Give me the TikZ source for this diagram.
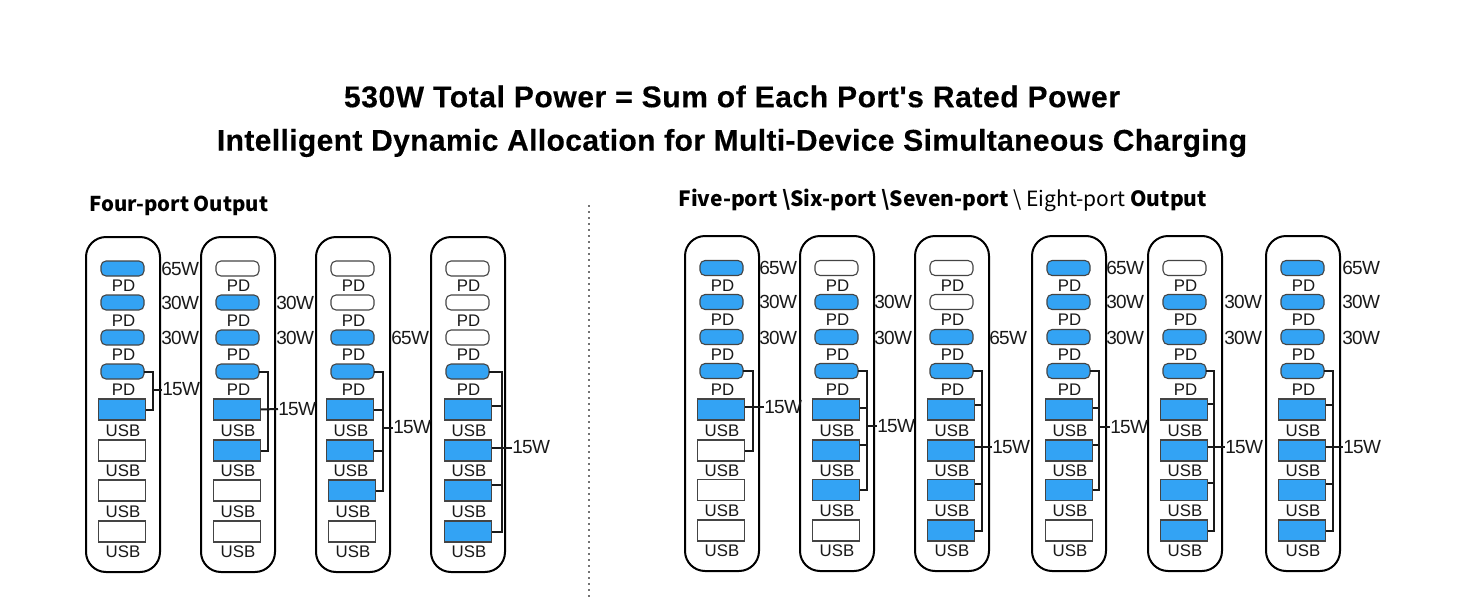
\documentclass[tikz,border=0pt]{standalone}
\usepackage{fontspec}
\setmainfont{Liberation Sans}
\newfontfamily\wattfont[LetterSpace=-4]{Liberation Sans}
\newfontfamily\titlefont[LetterSpace=2,BoldFeatures={FakeBold=0.35}]{Liberation Sans}
\newfontfamily\titlefontb[LetterSpace=1.25,BoldFeatures={FakeBold=0.35}]{Liberation Sans}
\newfontfamily\subfont{Noto Sans CJK SC}
\definecolor{portblue}{HTML}{33A3F4}
\definecolor{portedge}{HTML}{444444}
\tikzset{
  x=0.5pt,y=-0.5pt,
  casebox/.style={draw=black,line width=1pt,rounded corners=10pt,fill=white,minimum width=37pt,minimum height=167.5pt,inner sep=0pt,outer sep=0pt},
  pill/.style={draw=portedge,line width=.55pt,rounded corners=2.5pt,minimum width=21.5pt,minimum height=7.5pt,inner sep=0pt,outer sep=0pt},
  rectport/.style={draw=portedge,line width=.55pt,minimum width=23.75pt,minimum height=10.5pt,inner sep=0pt,outer sep=0pt},
  portlabel/.style={font=\fontsize{8.4}{8.4}\selectfont,inner sep=0pt,text=black!90},
  watt/.style={font=\wattfont\fontsize{9.5}{9.5}\selectfont,inner sep=0pt,anchor=west,text=black!90},
  wire/.style={draw=black!90,line width=1pt},
  titletext/.style={font=\titlefont\bfseries\fontsize{15}{15}\selectfont,inner sep=0pt},
  titletextb/.style={font=\titlefontb\bfseries\fontsize{15}{15}\selectfont,inner sep=0pt},
  subtext/.style={font=\subfont\bfseries\fontsize{10.2}{10.2}\selectfont,inner sep=0pt,anchor=west},
  subtextb/.style={font=\subfont\bfseries\fontsize{10.5}{10.5}\selectfont,inner sep=0pt,anchor=west},
}
% #1 id, #2 case left, #3 case top, #4 pill x, #5 list rectx/y/labely/fill for USB rows, #6 pill fills
\newcommand{\portcol}[6]{
  \node[casebox] (case#1) at (#2+37,#3+167.5) {};
  \foreach \yy/\ly/\ff [count=\i] in {#6}{
    \node[pill,fill=\ff] (c#1p\i) at (#4+21.5,\yy) {};
    \node[portlabel] (c#1pl\i) at (#4+22.5,\ly) {PD};
  }
  \foreach \xx/\yy/\ly/\ff [count=\i] in {#5}{
    \node[rectport,fill=\ff] (c#1u\i) at (\xx+24,\yy) {};
    \node[portlabel] (c#1ul\i) at (\xx+25,\ly) {USB};
  }
}
\begin{document}
\begin{tikzpicture}
\useasboundingbox (0,0) rectangle (1464,600);
\fill[white] (0,0) rectangle (1464,600);
\node[titletext] (t1) at (732,96.5) {530W Total Power = Sum of Each Port's Rated Power};
\node[titletextb] (t2) at (732,143) {Intelligent Dynamic Allocation for Multi-Device Simultaneous Charging};
\node[subtext] (s1) at (89,206) {Four-port Output};
\node[subtextb] (s2) at (678,200) {Five-port \textbackslash Six-port \textbackslash Seven-port {\mdseries\textbackslash\ Eight-port} Output};
\draw[dotted,line width=1pt,draw=black!55] (589,205) -- (589,600);
\def\B{portblue}\def\W{white}
\portcol{1}{86}{237}{101}{98/409.5/431/\B,98/450.5/471/\W,98/490.5/512/\W,98/531.5/552/\W}{268.5/286/\B,302.5/321/\B,337.5/355/\B,371.5/390/\B}
\portcol{2}{201}{237}{216}{213/409.5/431/\B,213/450.5/471/\B,213/490.5/512/\W,213/531.5/552/\W}{268.5/286/\W,302.5/321/\B,337.5/355/\B,371.5/390/\B}
\portcol{3}{316}{237}{331}{326/409.5/431/\B,326/450.5/471/\B,328/490.5/512/\B,328/531.5/552/\W}{268.5/286/\W,302.5/321/\W,337.5/355/\B,371.5/390/\B}
\portcol{4}{431}{237}{446}{444/409.5/431/\B,444/450.5/471/\B,444/490.5/512/\B,444/531.5/552/\B}{268.5/286/\W,302.5/321/\W,337.5/355/\W,371.5/390/\B}
\portcol{5}{685}{236}{700}{697/409.5/431/\B,697/450.5/471/\W,697/490/511/\W,697/530.5/551/\W}{268/286/\B,302/320/\B,337/355/\B,371/390/\B}
\portcol{6}{800}{236}{815}{812/409.5/431/\B,812/450.5/471/\B,812/490/511/\B,812/530.5/551/\W}{268/286/\W,302/320/\B,337/355/\B,371/390/\B}
\portcol{7}{915}{236}{930}{927/409.5/431/\B,927/450.5/471/\B,927/490/511/\B,927/530.5/551/\B}{268/286/\W,302/320/\W,337/355/\B,371/390/\B}
\portcol{8}{1032}{236}{1047}{1045/409.5/431/\B,1045/450.5/471/\B,1045/490/511/\B,1045/530.5/551/\W}{268/286/\B,302/320/\B,337/355/\B,371/390/\B}
\portcol{9}{1148}{236}{1163}{1160/409.5/431/\B,1160/450.5/471/\B,1160/490/511/\B,1160/530.5/551/\B}{268/286/\W,302/320/\B,337/355/\B,371/390/\B}
\portcol{10}{1266}{236}{1281}{1278/409.5/431/\B,1278/450.5/471/\B,1278/490/511/\B,1278/530.5/551/\B}{268/286/\B,302/320/\B,337/355/\B,371/390/\B}
\foreach \nm/\xx/\yy/\tx in {a/161/269/65W,b/161/303/30W,c/161/338/30W,d/276/303/30W,e/276/338/30W,f/391/338/65W,
  g/759/268/65W,h/759/302/30W,i/759/338/30W,j/874/302/30W,k/874/338/30W,l/989/338/65W,
  m/1106/268/65W,n/1106/302/30W,o/1106/338/30W,p/1224/302/30W,q/1224/338/30W,r/1342/268/65W,s/1342/302/30W,t/1342/338/30W}
  \node[watt] (w\nm) at (\xx,\yy) {\tx};
\node[watt] (f1) at (162,389.5) {15W};
\coordinate (j1) at (153,389.5);
\draw[wire] (c1p4.east) -| (j1) |- (c1u1.east);
\draw[wire] (j1) -- (f1.west);
\node[watt] (f2) at (278,409) {15W};
\coordinate (j2) at (268,409);
\draw[wire] (c2p4.east) -| (j2) |- (c2u2.east);
\draw[wire] (c2u1.east) -- (f2.west);
\node[watt] (f3) at (393,427.5) {15W};
\coordinate (j3) at (383,427.5);
\draw[wire] (c3p4.east) -| (j3) |- (c3u3.east);
\draw[wire] (c3u1.east) -- (j3 |- c3u1.east);
\draw[wire] (c3u2.east) -- (j3 |- c3u2.east);
\draw[wire] (j3) -- (f3.west);
\node[watt] (f4) at (512,447.5) {15W};
\coordinate (j4) at (501.5,447.5);
\draw[wire] (c4p4.east) -| (j4) |- (c4u4.east);
\draw[wire] (c4u1.east |- 0,406) -- (j4 |- 0,406);
\draw[wire] (c4u2.east |- f4) -- (f4.west);
\draw[wire] (c4u3.east |- 0,485) -- (j4 |- 0,485);
\node[watt] (f5) at (764,407) {15W};
\coordinate (j5) at (752.5,407);
\draw[wire] (c5p4.east) -| (j5) |- (c5u2.east);
\draw[wire] (c5u1.east |- f5) -- (f5.west);
\node[watt] (f6) at (877,426) {15W};
\coordinate (j6) at (866.5,426);
\draw[wire] (c6p4.east) -| (j6) |- (c6u3.east);
\draw[wire] (c6u1.east |- 0,408) -- (j6 |- 0,408);
\draw[wire] (c6u2.east |- 0,445) -- (j6 |- 0,445);
\draw[wire] (j6) -- (f6.west);
\node[watt] (f7) at (992,447) {15W};
\coordinate (j7) at (982,447);
\draw[wire] (c7p4.east) -| (j7) |- (c7u4.east);
\draw[wire] (c7u1.east |- 0,405) -- (j7 |- 0,405);
\draw[wire] (c7u2.east |- f7) -- (f7.west);
\draw[wire] (c7u3.east |- 0,484) -- (j7 |- 0,484);
\node[watt] (f8) at (1110,427) {15W};
\coordinate (j8) at (1099,427);
\draw[wire] (c8p4.east) -| (j8) |- (c8u3.east);
\draw[wire] (c8u1.east |- 0,408) -- (j8 |- 0,408);
\draw[wire] (c8u2.east |- 0,445) -- (j8 |- 0,445);
\draw[wire] (j8) -- (f8.west);
\node[watt] (f9) at (1225,447) {15W};
\coordinate (j9) at (1214,447);
\draw[wire] (c9p4.east) -| (j9) |- (c9u4.east);
\draw[wire] (c9u1.east |- 0,404) -- (j9 |- 0,404);
\draw[wire] (c9u2.east |- f9) -- (f9.west);
\draw[wire] (c9u3.east |- 0,483) -- (j9 |- 0,483);
\node[watt] (f10) at (1343,447) {15W};
\coordinate (j10) at (1333,447);
\draw[wire] (c10p4.east) -| (j10) |- (c10u4.east);
\draw[wire] (c10u1.east |- 0,405) -- (j10 |- 0,405);
\draw[wire] (c10u2.east |- f10) -- (f10.west);
\draw[wire] (c10u3.east |- 0,484) -- (j10 |- 0,484);
\end{tikzpicture}
\end{document}
